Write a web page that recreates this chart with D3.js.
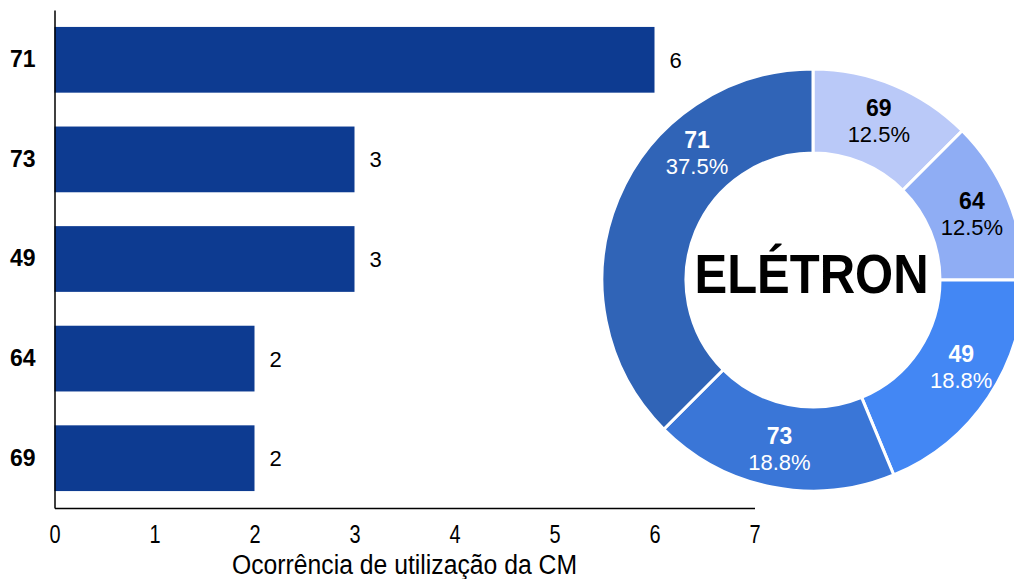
<!DOCTYPE html>
<html>
<head>
<meta charset="utf-8">
<script src="https://cdn.jsdelivr.net/npm/d3@7"></script>
<style>
  html, body { margin: 0; padding: 0; background: #fff; overflow: hidden; }
  svg { display: block; font-family: "Liberation Sans", Arial, sans-serif; }
</style>
</head>
<body>
<svg id="chart" width="1014" height="579"></svg>
<script>
// Chart data.
var categories = ["71", "73", "49", "64", "69"];
var counts = [6, 3, 3, 2, 2];
var xTicks = [0, 1, 2, 3, 4, 5, 6, 7];
var xTitle = "Ocorrência de utilização da CM";

// Donut data (clockwise from 12 o'clock).
var pieCategories = ["69", "64", "49", "73", "71"];
var pieCounts = [2, 2, 3, 3, 6];
var pieColors = ["#bac9f8", "#8fadf4", "#4387f4", "#3a76d7", "#3064b7"];
var pieTextColors = ["#000", "#000", "#fff", "#fff", "#fff"];
var centerTitle = "ELÉTRON";

var svg = d3.select("#chart");
var FONT = "'Liberation Sans', Arial, sans-serif";

// ---- Bar chart ----
var x = d3.scaleLinear().domain([0, 7]).range([54.5, 754.5]);
var y = d3.scaleBand()
  .domain(categories)
  .range([10, 508])
  .paddingInner(0.34)
  .paddingOuter(0.17);

var bars = categories.map(function (c, i) { return { cat: c, value: counts[i] }; });

svg.selectAll(".bar")
  .data(bars)
  .enter()
  .append("rect")
  .attr("class", "bar")
  .attr("x", x(0))
  .attr("y", d => y(d.cat))
  .attr("width", d => x(d.value) - x(0))
  .attr("height", y.bandwidth())
  .attr("fill", "#0d3b91");

svg.selectAll(".bar-label")
  .data(bars)
  .enter()
  .append("text")
  .attr("class", "bar-label")
  .attr("x", d => x(d.value) + 15)
  .attr("y", d => y(d.cat) + y.bandwidth() / 2)
  .attr("dy", "0.36em")
  .style("font-size", "22px")
  .text(d => d.value);

var xAxisG = svg.append("g")
  .attr("transform", "translate(0,508)")
  .call(d3.axisBottom(x).tickValues(xTicks).tickSize(0).tickPadding(0).tickFormat(d3.format("d")));
xAxisG.select(".domain").attr("stroke", "#000").attr("stroke-width", 1.5);
// Tick labels in the original are drawn a little tall and narrow.
xAxisG.selectAll(".tick text")
  .attr("y", 0)
  .attr("dy", 0)
  .attr("transform", "translate(0,35) scale(0.95,1.2)")
  .style("font-size", "21px")
  .style("font-family", FONT)
  .attr("fill", "#000");

var yAxisG = svg.append("g")
  .attr("transform", "translate(54.5,0)")
  .call(d3.axisLeft(y).tickSize(0).tickPadding(19));
yAxisG.select(".domain").attr("stroke", "#000").attr("stroke-width", 1.5);
yAxisG.selectAll("text")
  .style("font-size", "23px")
  .style("font-weight", "bold")
  .style("font-family", FONT)
  .attr("fill", "#000");

svg.append("text")
  .attr("x", 404.5)
  .attr("y", 574)
  .attr("text-anchor", "middle")
  .attr("textLength", 345)
  .attr("lengthAdjust", "spacingAndGlyphs")
  .style("font-size", "27px")
  .text(xTitle);

// ---- Donut ----
var cx = 813, cy = 280, outerR = 211, innerR = 127, labelR = 172;
var pieData = d3.pie().sort(null).value(d => d.value)(
  pieCategories.map(function (c, i) { return { cat: c, value: pieCounts[i], i: i }; })
);
var total = d3.sum(pieCounts);
var arc = d3.arc().innerRadius(innerR).outerRadius(outerR);

var donut = svg.append("g").attr("transform", "translate(" + cx + "," + cy + ")");

donut.selectAll(".slice")
  .data(pieData)
  .enter()
  .append("path")
  .attr("class", "slice")
  .attr("d", arc)
  .attr("fill", d => pieColors[d.data.i])
  .attr("stroke", "#fff")
  .attr("stroke-width", 3);

// Label angle: slice middle, with a nudge for slices whose label was moved in the original.
var labelAngleOverride = { "71": -42.4, "49": 120.5 };
function labelPos(d) {
  var deg = labelAngleOverride[d.data.cat] !== undefined
    ? labelAngleOverride[d.data.cat]
    : ((d.startAngle + d.endAngle) / 2) * 180 / Math.PI;
  var a = deg * Math.PI / 180;
  return [labelR * Math.sin(a), -labelR * Math.cos(a)];
}

var labels = donut.selectAll(".slice-label")
  .data(pieData)
  .enter()
  .append("text")
  .attr("class", "slice-label")
  .attr("text-anchor", "middle")
  .attr("fill", d => pieTextColors[d.data.i])
  .style("font-size", "22px");

labels.append("tspan")
  .attr("x", d => labelPos(d)[0])
  .attr("y", d => labelPos(d)[1] - 5)
  .style("font-weight", "bold")
  .style("font-size", "23px")
  .text(d => d.data.cat);

labels.append("tspan")
  .attr("x", d => labelPos(d)[0])
  .attr("y", d => labelPos(d)[1] + 21)
  .text(d => (d.data.value / total * 100).toFixed(1) + "%");

svg.append("text")
  .attr("x", 811.5)
  .attr("y", 293)
  .attr("text-anchor", "middle")
  .attr("textLength", 234)
  .attr("lengthAdjust", "spacingAndGlyphs")
  .style("font-size", "56px")
  .style("font-weight", "bold")
  .text(centerTitle);
</script>
</body>
</html>
